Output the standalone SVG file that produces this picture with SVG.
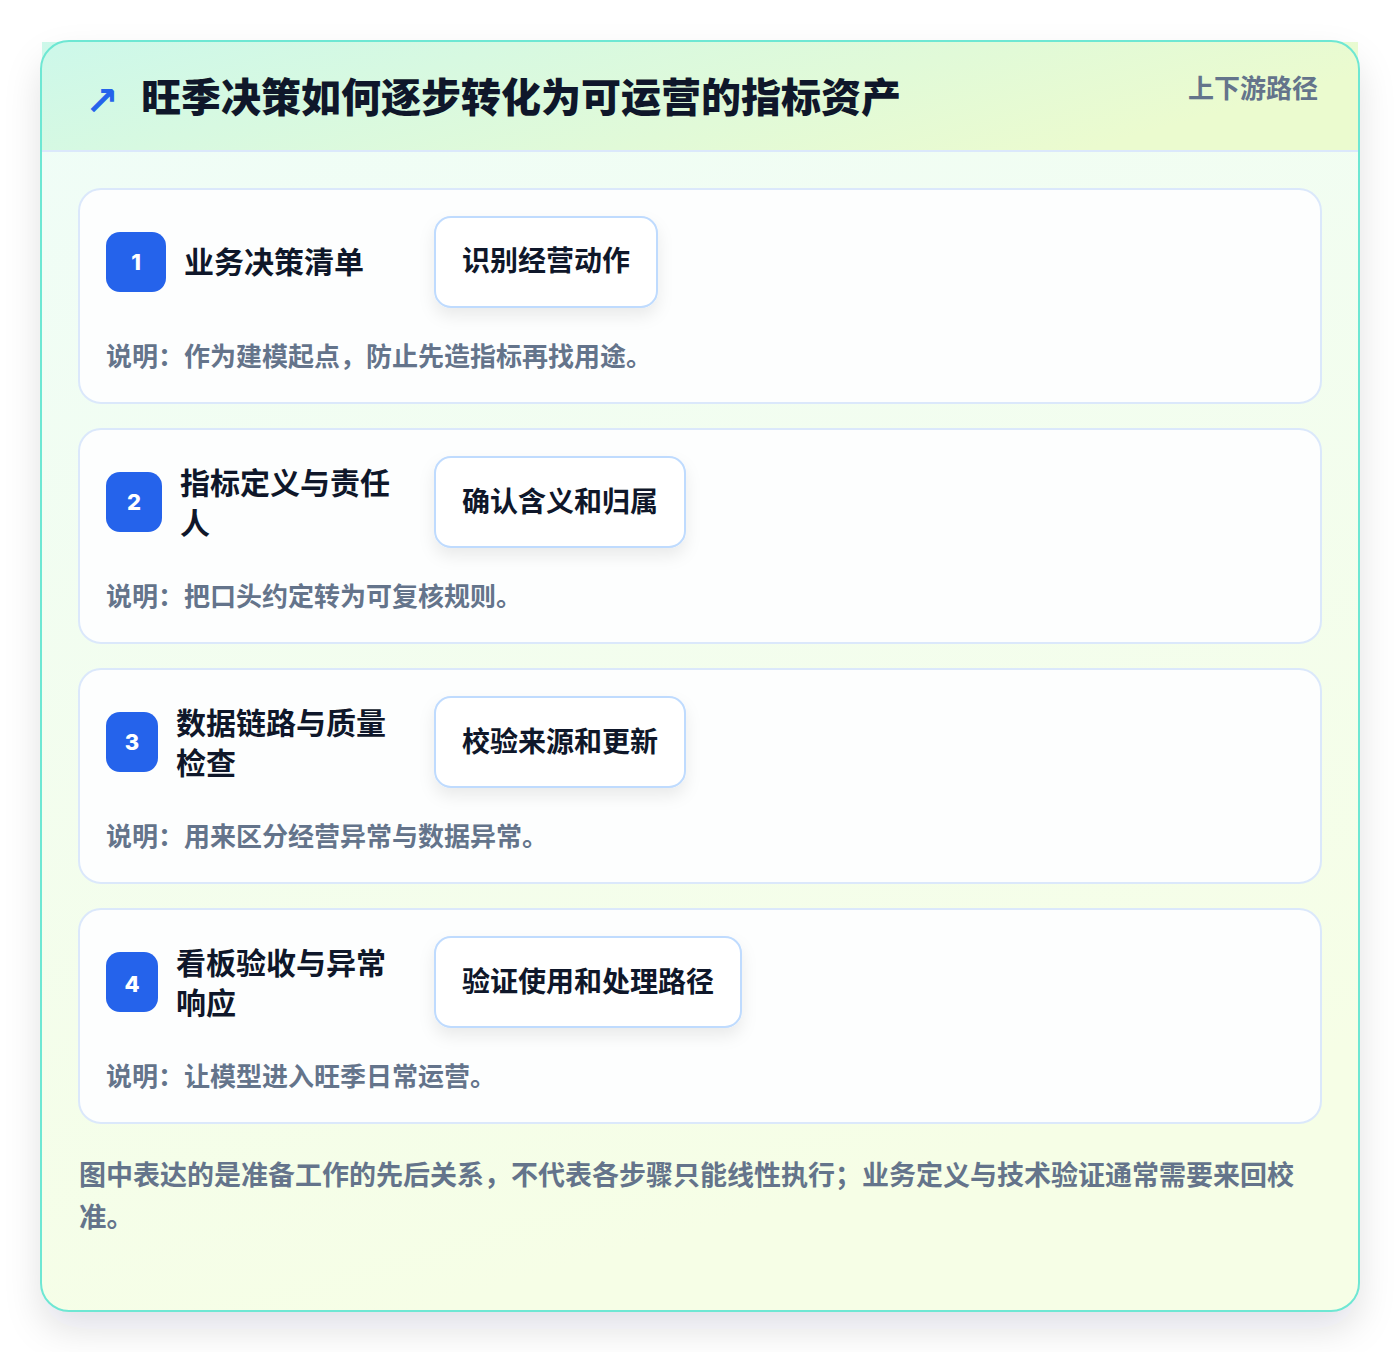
<svg xmlns="http://www.w3.org/2000/svg" width="1400" height="1352" viewBox="0 0 1400 1352">
<defs>
<linearGradient id="hdr" x1="0" y1="0" x2="1" y2="0.3">
<stop offset="0" stop-color="#cdf8ea"/>
<stop offset="1" stop-color="#ebfbcf"/>
</linearGradient>
<linearGradient id="body" x1="0" y1="0" x2="0.3" y2="1">
<stop offset="0" stop-color="#effdf8"/>
<stop offset="1" stop-color="#f6fee6"/>
</linearGradient>
<filter id="cardShadow" x="-10%" y="-10%" width="120%" height="125%">
<feDropShadow dx="0" dy="18" stdDeviation="18" flood-color="#0f172a" flood-opacity="0.12"/>
</filter>
<filter id="boxShadow" x="-20%" y="-30%" width="140%" height="180%">
<feDropShadow dx="0" dy="8" stdDeviation="8" flood-color="#0f172a" flood-opacity="0.08"/>
</filter>
</defs>
<style>
.cjk{font-family:"Noto Sans CJK SC","Noto Sans",sans-serif;font-weight:700}
.title{font-size:40px;fill:#0f172a;font-weight:900}
.tag{font-size:26px;fill:#64748b}
.step{fill:#fdfefe;stroke:#dbe8fb;stroke-width:2}
.badge{fill:#2563eb}
.num{font-family:Inter,"Noto Sans",sans-serif;font-weight:800;font-size:22px;fill:#ffffff}
.stitle{font-size:30px;fill:#0f172a}
.act{fill:#ffffff;stroke:#bfdbfe;stroke-width:2}
.acttext{font-size:28px;fill:#0f172a}
.desc{font-size:26px;fill:#64748b}
.foot{font-size:27.5px;fill:#64748b}
</style>
<rect width="1400" height="1352" fill="#ffffff"/>
<g id="card">
<rect x="41" y="41" width="1318" height="1270" rx="28" fill="url(#body)" filter="url(#cardShadow)"/>
<rect x="42" y="42" width="1316" height="109" fill="url(#hdr)"/>
<line x1="42" y1="151" x2="1358" y2="151" stroke="#dbe8fb" stroke-width="2"/>
<rect x="41" y="41" width="1318" height="1270" rx="28" fill="none" stroke="#6ee7d3" stroke-width="2"/>
</g>
<g id="header">
<text x="85" y="115" font-family="DejaVu Sans,sans-serif" font-weight="700" font-size="40" fill="#2563eb">↗</text>
<text class="cjk title" x="141" y="112">旺季决策如何逐步转化为可运营的指标资产</text>
<text class="cjk tag" x="1318" y="98" text-anchor="end">上下游路径</text>
</g>
<g id="connectors"></g>
<g id="step1">
<rect class="step" x="79" y="189" width="1242" height="214" rx="22"/>
<rect class="badge" x="106" y="232" width="60" height="60" rx="14"/>
<text class="num" x="136" y="270" text-anchor="middle">1</text>
<text class="cjk stitle" x="184" y="273">业务决策清单</text>
<rect class="act" x="435" y="217" width="222" height="90" rx="16" filter="url(#boxShadow)"/>
<text class="cjk acttext" x="546" y="271" text-anchor="middle">识别经营动作</text>
<text class="cjk desc" x="106" y="366">说明：作为建模起点，防止先造指标再找用途。</text>
</g>
<g id="step2">
<rect class="step" x="79" y="429" width="1242" height="214" rx="22"/>
<rect class="badge" x="106" y="472" width="56" height="60" rx="14"/>
<text class="num" x="134" y="510" text-anchor="middle">2</text>
<text class="cjk stitle" x="180" y="494">指标定义与责任</text>
<text class="cjk stitle" x="180" y="534">人</text>
<rect class="act" x="435" y="457" width="250" height="90" rx="16" filter="url(#boxShadow)"/>
<text class="cjk acttext" x="560" y="512" text-anchor="middle">确认含义和归属</text>
<text class="cjk desc" x="106" y="606">说明：把口头约定转为可复核规则。</text>
</g>
<g id="step3">
<rect class="step" x="79" y="669" width="1242" height="214" rx="22"/>
<rect class="badge" x="106" y="712" width="52" height="60" rx="14"/>
<text class="num" x="132" y="750" text-anchor="middle">3</text>
<text class="cjk stitle" x="176" y="734">数据链路与质量</text>
<text class="cjk stitle" x="176" y="774">检查</text>
<rect class="act" x="435" y="697" width="250" height="90" rx="16" filter="url(#boxShadow)"/>
<text class="cjk acttext" x="560" y="752" text-anchor="middle">校验来源和更新</text>
<text class="cjk desc" x="106" y="846">说明：用来区分经营异常与数据异常。</text>
</g>
<g id="step4">
<rect class="step" x="79" y="909" width="1242" height="214" rx="22"/>
<rect class="badge" x="106" y="952" width="52" height="60" rx="14"/>
<text class="num" x="132" y="992" text-anchor="middle">4</text>
<text class="cjk stitle" x="176" y="974">看板验收与异常</text>
<text class="cjk stitle" x="176" y="1014">响应</text>
<rect class="act" x="435" y="937" width="306" height="90" rx="16" filter="url(#boxShadow)"/>
<text class="cjk acttext" x="588" y="992" text-anchor="middle">验证使用和处理路径</text>
<text class="cjk desc" x="106" y="1086">说明：让模型进入旺季日常运营。</text>
</g>
<g id="footer">
<text class="cjk foot" x="79" y="1185" textLength="1215" lengthAdjust="spacingAndGlyphs">图中表达的是准备工作的先后关系，不代表各步骤只能线性执行；业务定义与技术验证通常需要来回校</text>
<text class="cjk foot" x="79" y="1227">准。</text>
</g>
</svg>
